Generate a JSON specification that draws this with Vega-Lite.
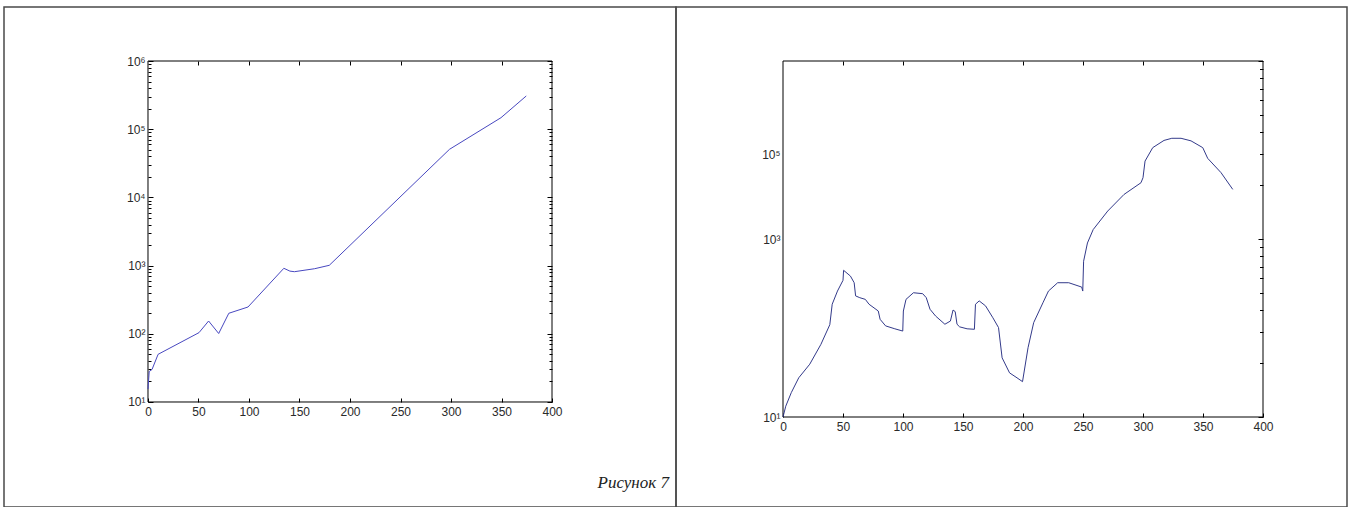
{
  "$schema": "https://vega.github.io/schema/vega-lite/v6.json",
  "padding": {"left": 3, "top": 6, "right": 0, "bottom": 0},
  "background": "white",
  "spacing": 0,
  "bounds": "flush",
  "config": {
    "view": {"stroke": "#4a4a4a", "strokeWidth": 1.5},
    "axis": {"labelFont": "Liberation Sans, DejaVu Sans", "labelFontSize": 12, "labelColor": "#2a2a2a", "tickColor": "#000000", "tickWidth": 1, "domain": false, "grid": false, "title": null}
  },
  "datasets": {
    "left": [
      {"x": 0, "y": 15.5}, {"x": 1.2, "y": 28}, {"x": 4, "y": 30}, {"x": 10, "y": 50},
      {"x": 50.5, "y": 104}, {"x": 60, "y": 154}, {"x": 70, "y": 101}, {"x": 80, "y": 200},
      {"x": 99, "y": 247}, {"x": 134.5, "y": 913}, {"x": 140.5, "y": 830}, {"x": 145, "y": 814},
      {"x": 165, "y": 900}, {"x": 179.5, "y": 1010}, {"x": 298.5, "y": 50700}, {"x": 349.5, "y": 147500},
      {"x": 374.5, "y": 307000}
    ],
    "right": [
      {"x": 0, "y": 10}, {"x": 2.3, "y": 11.5}, {"x": 6.9, "y": 13.7}, {"x": 13.1, "y": 16.6},
      {"x": 22.3, "y": 19.8}, {"x": 31.6, "y": 25.6}, {"x": 39, "y": 33}, {"x": 41, "y": 43},
      {"x": 45.4, "y": 51}, {"x": 50, "y": 58.6}, {"x": 50.5, "y": 66.7}, {"x": 56.2, "y": 61.9},
      {"x": 59.3, "y": 56.8}, {"x": 60.5, "y": 47.9}, {"x": 64, "y": 46.8}, {"x": 68.6, "y": 45.8},
      {"x": 71.7, "y": 43}, {"x": 79.4, "y": 39.4}, {"x": 80.9, "y": 35.4}, {"x": 85.5, "y": 32.5},
      {"x": 93.2, "y": 31.3}, {"x": 99.8, "y": 30.4}, {"x": 100.3, "y": 39.4}, {"x": 102.5, "y": 45.8},
      {"x": 108.7, "y": 49.9}, {"x": 116.4, "y": 49.3}, {"x": 119.4, "y": 46.8}, {"x": 122.5, "y": 40.3},
      {"x": 127.2, "y": 36.9}, {"x": 134.9, "y": 33.2}, {"x": 139.5, "y": 34.6}, {"x": 141.7, "y": 39.9},
      {"x": 143.5, "y": 39.1}, {"x": 145, "y": 33.2}, {"x": 147.2, "y": 32.1}, {"x": 153.4, "y": 31.3},
      {"x": 159.5, "y": 31.1}, {"x": 160.4, "y": 43}, {"x": 163.5, "y": 44.9}, {"x": 168.8, "y": 42.1},
      {"x": 174.9, "y": 36.1}, {"x": 179.6, "y": 31.8}, {"x": 182.6, "y": 21.5}, {"x": 188.8, "y": 17.7},
      {"x": 195, "y": 16.6}, {"x": 199.6, "y": 15.8}, {"x": 204.2, "y": 24.5}, {"x": 208.9, "y": 33.9},
      {"x": 216.6, "y": 43.8}, {"x": 221.2, "y": 51}, {"x": 228.9, "y": 56.8}, {"x": 238.1, "y": 56.8},
      {"x": 248.9, "y": 53.7}, {"x": 249.8, "y": 51}, {"x": 250.5, "y": 75}, {"x": 253.7, "y": 95},
      {"x": 258.5, "y": 113}, {"x": 270.6, "y": 143.6}, {"x": 284.2, "y": 178}, {"x": 298.3, "y": 207},
      {"x": 300, "y": 221}, {"x": 301.7, "y": 274}, {"x": 308.1, "y": 326}, {"x": 317.5, "y": 358},
      {"x": 324, "y": 368}, {"x": 331.7, "y": 368}, {"x": 340, "y": 356}, {"x": 349.8, "y": 326},
      {"x": 353.9, "y": 284}, {"x": 365, "y": 236}, {"x": 374.8, "y": 190}
    ]
  },
  "hconcat": [
    {
      "width": 672,
      "height": 500,
      "title": {"text": "Рисунок 7", "orient": "bottom", "anchor": "end", "offset": -19, "dx": -7, "baseline": "alphabetic", "font": "Liberation Serif", "fontSize": 17, "fontStyle": "italic", "fontWeight": "normal", "color": "#222222"},
      "layer": [
        {
          "data": {"values": [{}]},
          "mark": {"type": "rect", "fill": "white", "fillOpacity": 0, "stroke": "#000000", "strokeWidth": 1},
          "encoding": {
            "x": {"datum": 0, "type": "quantitative", "scale": {"domain": [-142.574, 522.772], "nice": false, "zero": false},
              "axis": {"orient": "top", "offset": -54, "values": [50, 100, 150, 200, 250, 300, 350], "labels": false, "tickSize": -4}},
            "x2": {"datum": 400},
            "y": {"datum": 10, "type": "quantitative", "scale": {"type": "log", "domain": [0.2886, 6192000], "nice": false},
              "axis": {"orient": "right", "offset": -124, "labels": false,
                "values": [10,20,30,40,50,60,70,80,90,100,200,300,400,500,600,700,800,900,1000,2000,3000,4000,5000,6000,7000,8000,9000,10000,20000,30000,40000,50000,60000,70000,80000,90000,100000,200000,300000,400000,500000,600000,700000,800000,900000,1000000],
                "tickSize": {"condition": {"test": "indexof([10,100,1000,10000,100000,1000000], datum.value) >= 0", "value": -5}, "value": -3}}},
            "y2": {"datum": 1000000}
          }
        },
        {
          "data": {"name": "left"},
          "mark": {"type": "line", "color": "#4848c0", "strokeWidth": 1},
          "encoding": {
            "x": {"field": "x", "type": "quantitative", "scale": {"domain": [-142.574, 522.772], "nice": false, "zero": false},
              "axis": {"orient": "bottom", "offset": -105, "values": [0, 50, 100, 150, 200, 250, 300, 350, 400], "format": "d", "tickSize": -4, "labelPadding": 8}},
            "y": {"field": "y", "type": "quantitative", "scale": {"type": "log", "domain": [0.2886, 6192000], "nice": false},
              "axis": {"orient": "left", "offset": -144, "labelPadding": 8,
                "values": [10,20,30,40,50,60,70,80,90,100,200,300,400,500,600,700,800,900,1000,2000,3000,4000,5000,6000,7000,8000,9000,10000,20000,30000,40000,50000,60000,70000,80000,90000,100000,200000,300000,400000,500000,600000,700000,800000,900000,1000000],
                "tickSize": {"condition": {"test": "indexof([10,100,1000,10000,100000,1000000], datum.value) >= 0", "value": -5}, "value": -3},
                "labelExpr": "datum.value == 10 ? '10¹' : datum.value == 100 ? '10²' : datum.value == 1000 ? '10³' : datum.value == 10000 ? '10⁴' : datum.value == 100000 ? '10⁵' : datum.value == 1000000 ? '10⁶' : ''"}}
          }
        }
      ],
      "resolve": {"axis": {"x": "independent", "y": "independent"}}
    },
    {
      "width": 671,
      "height": 500,
      "layer": [
        {
          "data": {"values": [{}]},
          "mark": {"type": "rect", "fill": "white", "fillOpacity": 0, "stroke": "#000000", "strokeWidth": 1},
          "encoding": {
            "x": {"datum": 0, "type": "quantitative", "scale": {"domain": [-89.1667, 470], "nice": false, "zero": false},
              "axis": {"orient": "top", "offset": -54, "values": [50, 100, 150, 200, 250, 300, 350], "labels": false, "tickSize": -4}},
            "x2": {"datum": 400},
            "y": {"datum": 10, "type": "quantitative", "scale": {"type": "log", "domain": [3.1217, 2011.1], "nice": false},
              "axis": {"orient": "right", "offset": -84, "labels": false,
                "values": [10,20,30,40,50,60,70,80,90,100,200,300,400,500,600,700,800,900,1000],
                "tickSize": {"condition": {"test": "indexof([10,100,1000], datum.value) >= 0", "value": -5}, "value": -3.5}}},
            "y2": {"datum": 1000}
          }
        },
        {
          "data": {"name": "right"},
          "mark": {"type": "line", "color": "#333a8a", "strokeWidth": 1},
          "encoding": {
            "x": {"field": "x", "type": "quantitative", "scale": {"domain": [-89.1667, 470], "nice": false, "zero": false},
              "axis": {"orient": "bottom", "offset": -90, "values": [0, 50, 100, 150, 200, 250, 300, 350, 400], "format": "d", "tickSize": -4, "labelPadding": 8}},
            "y": {"field": "y", "type": "quantitative", "scale": {"type": "log", "domain": [3.1217, 2011.1], "nice": false},
              "axis": {"orient": "left", "offset": -107, "ticks": false, "labelPadding": 3, "values": [10, 100, 300],
                "labelExpr": "datum.value == 10 ? '10¹' : datum.value == 100 ? '10³' : '10⁵'"}}
          }
        }
      ],
      "resolve": {"axis": {"x": "independent", "y": "independent"}}
    }
  ]
}
